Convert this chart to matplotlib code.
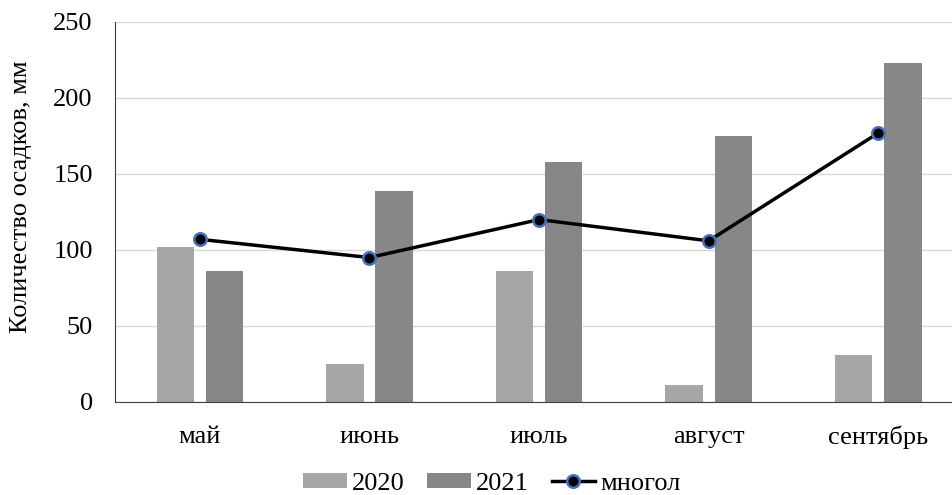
import numpy as np
import matplotlib.pyplot as plt

plt.rcParams['font.family'] = ['Liberation Serif', 'DejaVu Serif']

months = ['май', 'июнь', 'июль', 'август', 'сентябрь']
rain_2020 = [102, 25, 86, 11, 31]
rain_2021 = [86, 139, 158, 175, 223]
longterm = [107, 95, 120, 106, 177]

fig = plt.figure(figsize=(9.53, 4.95), dpi=100)
ax = fig.add_axes([0.1207, 0.188, 0.8793, 0.7676])

x = np.arange(len(months))
w = 0.22
b1 = ax.bar(x - 0.145, rain_2020, w, color='#a6a6a6', label='2020', zorder=2)
b2 = ax.bar(x + 0.145, rain_2021, w, color='#878787', label='2021', zorder=2)
ln, = ax.plot(x, longterm, color='black', lw=2.5, marker='o', markersize=9,
              markerfacecolor='black', markeredgecolor='#4472c4', markeredgewidth=1.8,
              label='многол', zorder=3)

ax.set_xlim(-0.5, 4.44)
ax.set_ylim(0, 250)
ax.set_yticks(range(0, 251, 50))
ax.set_xticks(x)
ax.set_xticklabels(months)
ax.grid(axis='y', color='#d9d9d9', lw=1, zorder=0)
ax.tick_params(length=0, labelsize=19)
ax.tick_params(axis='x', pad=17)
ax.tick_params(axis='y', pad=16)
for s in ['top', 'right']:
    ax.spines[s].set_visible(False)
ax.spines['left'].set_color('#404040')
ax.spines['bottom'].set_color('#404040')
ax.set_ylabel('Количество осадков, мм', fontsize=19)
ax.yaxis.set_label_coords(-0.099, 0.54)

ax.legend([b1, b2, ln], ['2020', '2021', 'многол'], loc='center',
          bbox_to_anchor=(0.45, -0.215), ncol=3, frameon=False,
          fontsize=19, handlelength=1.65, handleheight=0.5, handletextpad=0.2,
          columnspacing=0.85)

fig.savefig('out.png', dpi=100)
